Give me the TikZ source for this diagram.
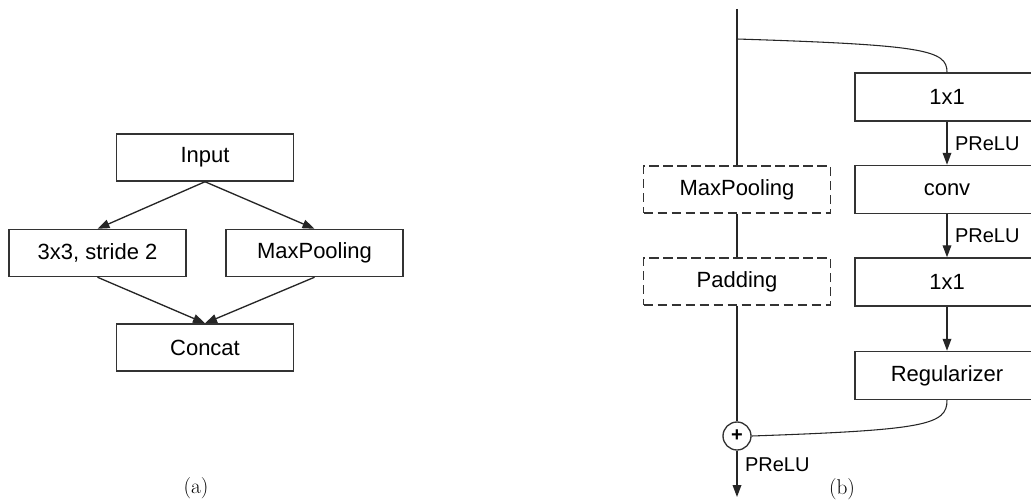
\documentclass[tikz,border=0pt]{standalone}
\usepackage{fontspec}
\newfontfamily\helv{Liberation Sans}
\usetikzlibrary{arrows.meta}
\begin{document}
\begin{tikzpicture}[x=0.75pt,y=-0.75pt,
  boxtext/.style={font=\helv\fontsize{16.5}{20}\selectfont, text=black},
  box/.style={boxtext, draw=black!80, line width=1.1pt, rectangle, inner sep=0pt,
    minimum width=132.75pt, minimum height=35.25pt},
  rbox/.style={box, minimum width=138pt, minimum height=36pt},
  dbox/.style={box, minimum width=140.25pt, dash pattern=on 7pt off 3.5pt},
  sumnode/.style={circle, draw=black!80, line width=1pt, inner sep=0pt, minimum size=21pt,
    font=\helv\bfseries\fontsize{15}{15}\selectfont},
  conn/.style={draw=black!85, line width=1pt},
  arr/.style={conn, -{Triangle[length=9pt,width=6.5pt]}},
  curve/.style={draw=black!85, line width=0.8pt},
  act/.style={font=\helv\fontsize{15}{18}\selectfont, inner sep=0pt, anchor=west, xshift=5.5pt},
  subcap/.style={font=\fontsize{16}{19}\selectfont}
]
\clip (0,0) rectangle (1031,503);

% ---- (a) reduction block ----
\node[box] (in)  at (205,157.5) {Input};
\node[box] (cv)  at (97.5,253)  {3x3, stride 2};
\node[box] (mpa) at (314.5,253) {MaxPooling};
\node[box] (cat) at (205,347.5) {Concat};
\draw[arr] (in.south) -- (cv.north);
\draw[arr] (in.south) -- (mpa.north);
\draw[arr] (cv.south) -- (cat.north);
\draw[arr] (mpa.south) -- (cat.north);
\node[subcap] (capa) at (196,488) {(a)};

% ---- (b) bottleneck block ----
\coordinate (top) at (737,9);
\coordinate (br)  at (737,39);
\coordinate (out) at (737,497);
\node[dbox] (mpb) at (737,189.5) {MaxPooling};
\node[dbox] (pad) at (737,281.5) {Padding};
\node[sumnode] (sum) at (737,436) {+};

\node[rbox] (p1)  at (947,97)    {1x1};
\node[rbox] (p2)  at (947,189.5) {conv};
\node[rbox] (p3)  at (947,282)   {1x1};
\node[rbox] (reg) at (947,375.5) {Regularizer};

% main path
\draw[conn] (top) -- (mpb.north);
\draw[conn] (mpb.south) -- (pad.north);
\draw[conn] (pad.south) -- (sum.north);
\draw[arr] (sum.south) -- (out) node[act, pos=0.3] {PReLU};

% extension path
\draw[curve] (br) .. controls (925,45) and (947,50) .. (p1.north);
\draw[arr] (p1.south) -- (p2.north) node[act, midway] {PReLU};
\draw[arr] (p2.south) -- (p3.north) node[act, midway] {PReLU};
\draw[arr] (p3.south) -- (reg.north);
\draw[curve] (reg.south) .. controls (947,425) and (925,430) .. (sum.east);

\node[subcap] (capb) at (842,489) {(b)};
\end{tikzpicture}
\end{document}
